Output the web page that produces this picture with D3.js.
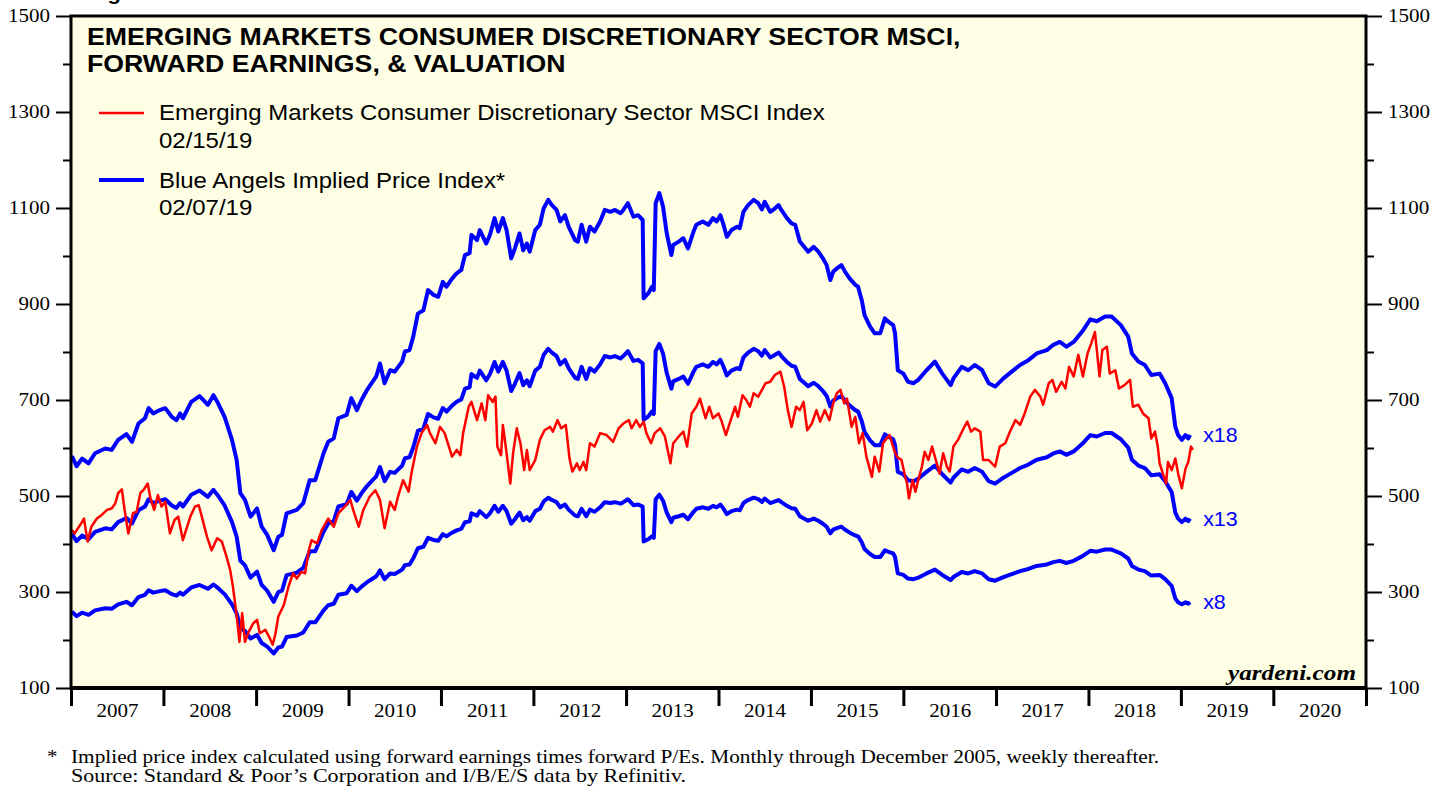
<!DOCTYPE html>
<html>
<head>
<meta charset="UTF-8">
<title>EM Consumer Discretionary Sector MSCI</title>
<script src="https://cdn.jsdelivr.net/npm/d3@7/dist/d3.min.js"></script>
<style>
  body { margin: 0; background: #fff; }
  svg { display: block; }
</style>
</head>
<body>
<svg id="chart" width="1448" height="786"></svg>
<script>
// ---- data (dates as decimal years) ----
var yearLabels = [2007, 2008, 2009, 2010, 2011, 2012, 2013, 2014, 2015, 2016, 2017, 2018, 2019, 2020];
var multiples = [18, 13, 8];

// Blue Angels implied price index at 18x forward earnings
var blueDates = [2007.01, 2007.06, 2007.12, 2007.19, 2007.26, 2007.37, 2007.44, 2007.51, 2007.60, 2007.66,
  2007.73, 2007.80, 2007.84, 2007.89, 2007.96, 2008.02, 2008.09, 2008.14, 2008.18, 2008.21,
  2008.30, 2008.39, 2008.48, 2008.54, 2008.59, 2008.66, 2008.74, 2008.79, 2008.83, 2008.88,
  2008.94, 2009.01, 2009.06, 2009.12, 2009.19, 2009.24, 2009.28, 2009.33, 2009.44, 2009.51,
  2009.58, 2009.64, 2009.73, 2009.78, 2009.84, 2009.89, 2009.98, 2010.03, 2010.09, 2010.14,
  2010.20, 2010.25, 2010.30, 2010.34, 2010.39, 2010.45, 2010.50, 2010.58, 2010.61, 2010.66,
  2010.70, 2010.75, 2010.81, 2010.86, 2010.92, 2010.97, 2011.02, 2011.06, 2011.12, 2011.17,
  2011.22, 2011.26, 2011.31, 2011.33, 2011.39, 2011.42, 2011.49, 2011.53, 2011.58, 2011.62,
  2011.67, 2011.71, 2011.76, 2011.80, 2011.85, 2011.89, 2011.93, 2011.96, 2012.02, 2012.07,
  2012.11, 2012.16, 2012.20, 2012.25, 2012.29, 2012.34, 2012.38, 2012.45, 2012.48, 2012.52,
  2012.57, 2012.61, 2012.66, 2012.72, 2012.77, 2012.83, 2012.88, 2012.94, 2012.97, 2013.02,
  2013.08, 2013.13, 2013.18, 2013.19, 2013.24, 2013.28, 2013.30, 2013.32, 2013.36, 2013.40,
  2013.44, 2013.49, 2013.51, 2013.57, 2013.62, 2013.67, 2013.73, 2013.76, 2013.83, 2013.89,
  2013.94, 2013.98, 2014.02, 2014.05, 2014.09, 2014.14, 2014.20, 2014.23, 2014.27, 2014.32,
  2014.38, 2014.43, 2014.47, 2014.50, 2014.56, 2014.59, 2014.65, 2014.68, 2014.74, 2014.79,
  2014.83, 2014.88, 2014.94, 2014.97, 2015.03, 2015.08, 2015.13, 2015.17, 2015.21, 2015.24,
  2015.28, 2015.33, 2015.37, 2015.42, 2015.48, 2015.51, 2015.55, 2015.58, 2015.64, 2015.69,
  2015.75, 2015.80, 2015.84, 2015.89, 2015.91, 2015.94, 2016.00, 2016.05, 2016.11, 2016.16,
  2016.25, 2016.34, 2016.42, 2016.51, 2016.54, 2016.63, 2016.70, 2016.77, 2016.85, 2016.92,
  2016.99, 2017.08, 2017.17, 2017.26, 2017.35, 2017.44, 2017.55, 2017.62, 2017.69, 2017.76,
  2017.84, 2017.93, 2018.02, 2018.09, 2018.18, 2018.25, 2018.35, 2018.43, 2018.47, 2018.54,
  2018.61, 2018.68, 2018.77, 2018.83, 2018.90, 2018.94, 2018.97, 2019.01, 2019.05, 2019.08,
  2019.10];
var blueValues = [583, 562, 578, 568, 589, 599, 596, 617, 629, 613,
  651, 662, 683, 672, 679, 683, 665, 658, 672, 662,
  696, 708, 690, 710, 693, 665, 617, 575, 506, 492,
  457, 474, 436, 419, 387, 415, 419, 464, 471, 485,
  533, 533, 589, 613, 620, 662, 669, 704, 679, 700,
  721, 735, 749, 776, 735, 762, 759, 780, 801, 804,
  832, 880, 887, 929, 919, 915, 946, 936, 953, 964,
  971, 1002, 1006, 1044, 1033, 1054, 1026, 1044, 1079, 1051,
  1079, 1054, 995, 1016, 1047, 1012, 1026, 1009, 1054, 1065,
  1099, 1117, 1106, 1096, 1072, 1085, 1061, 1033, 1030, 1065,
  1030, 1061, 1051, 1072, 1096, 1092, 1096, 1089, 1096, 1110,
  1082, 1085, 1075, 912, 922, 936, 929, 1110, 1131, 1103,
  1047, 1002, 1023, 1030, 1037, 1016, 1051, 1065, 1072, 1065,
  1079, 1072, 1085, 1068, 1040, 1054, 1061, 1058, 1092, 1106,
  1117, 1110, 1097, 1113, 1092, 1096, 1106, 1096, 1079, 1068,
  1065, 1030, 1016, 1009, 1019, 1009, 995, 981, 950, 967,
  974, 981, 967, 953, 940, 936, 908, 877, 853, 839,
  839, 870, 863, 856, 839, 762, 755, 738, 735, 742,
  762, 780, 755, 731, 745, 769, 762, 773, 762, 735,
  728, 745, 759, 773, 783, 797, 804, 815, 821, 811,
  821, 842, 868, 864, 874, 874, 856, 832, 797, 780,
  773, 752, 755, 735, 704, 644, 627, 617, 627, 620,
  627];

// MSCI EM Consumer Discretionary index
var redDates = [2007.01, 2007.04, 2007.10, 2007.14, 2007.18, 2007.22, 2007.28, 2007.33, 2007.39, 2007.44,
  2007.48, 2007.51, 2007.55, 2007.58, 2007.62, 2007.67, 2007.71, 2007.75, 2007.79, 2007.83,
  2007.86, 2007.90, 2007.94, 2007.98, 2008.02, 2008.07, 2008.12, 2008.16, 2008.21, 2008.29,
  2008.34, 2008.38, 2008.41, 2008.47, 2008.52, 2008.58, 2008.63, 2008.68, 2008.72, 2008.75,
  2008.79, 2008.82, 2008.85, 2008.88, 2008.92, 2008.97, 2009.01, 2009.04, 2009.10, 2009.14,
  2009.18, 2009.21, 2009.24, 2009.30, 2009.35, 2009.40, 2009.44, 2009.49, 2009.53, 2009.57,
  2009.60, 2009.66, 2009.71, 2009.78, 2009.84, 2009.89, 2009.96, 2010.02, 2010.05, 2010.11,
  2010.16, 2010.23, 2010.29, 2010.34, 2010.39, 2010.45, 2010.50, 2010.54, 2010.59, 2010.65,
  2010.68, 2010.74, 2010.79, 2010.85, 2010.88, 2010.94, 2010.99, 2011.04, 2011.12, 2011.17,
  2011.21, 2011.24, 2011.30, 2011.33, 2011.39, 2011.44, 2011.48, 2011.51, 2011.56, 2011.59,
  2011.61, 2011.65, 2011.67, 2011.71, 2011.75, 2011.78, 2011.82, 2011.86, 2011.90, 2011.93,
  2011.96, 2012.02, 2012.07, 2012.12, 2012.18, 2012.21, 2012.26, 2012.30, 2012.35, 2012.39,
  2012.42, 2012.47, 2012.50, 2012.54, 2012.57, 2012.61, 2012.66, 2012.72, 2012.79, 2012.86,
  2012.92, 2012.97, 2013.03, 2013.06, 2013.11, 2013.15, 2013.19, 2013.22, 2013.27, 2013.31,
  2013.37, 2013.42, 2013.48, 2013.51, 2013.57, 2013.62, 2013.66, 2013.71, 2013.76, 2013.80,
  2013.86, 2013.90, 2013.94, 2014.00, 2014.03, 2014.08, 2014.12, 2014.18, 2014.21, 2014.26,
  2014.30, 2014.34, 2014.38, 2014.43, 2014.47, 2014.51, 2014.56, 2014.61, 2014.67, 2014.71,
  2014.75, 2014.79, 2014.84, 2014.88, 2014.92, 2014.96, 2015.01, 2015.06, 2015.10, 2015.15,
  2015.20, 2015.24, 2015.28, 2015.32, 2015.36, 2015.39, 2015.44, 2015.48, 2015.52, 2015.56,
  2015.60, 2015.66, 2015.69, 2015.74, 2015.78, 2015.82, 2015.85, 2015.90, 2015.93, 2015.98,
  2016.02, 2016.04, 2016.06, 2016.10, 2016.13, 2016.16, 2016.20, 2016.23, 2016.27, 2016.31,
  2016.34, 2016.39, 2016.43, 2016.47, 2016.50, 2016.54, 2016.59, 2016.65, 2016.69, 2016.73,
  2016.77, 2016.83, 2016.86, 2016.92, 2016.99, 2017.04, 2017.10, 2017.15, 2017.21, 2017.26,
  2017.31, 2017.37, 2017.42, 2017.48, 2017.51, 2017.57, 2017.61, 2017.65, 2017.71, 2017.75,
  2017.79, 2017.84, 2017.89, 2017.94, 2017.99, 2018.03, 2018.07, 2018.12, 2018.15, 2018.20,
  2018.23, 2018.29, 2018.33, 2018.39, 2018.45, 2018.48, 2018.54, 2018.59, 2018.65, 2018.68,
  2018.72, 2018.75, 2018.77, 2018.81, 2018.84, 2018.86, 2018.90, 2018.94, 2018.97, 2019.01,
  2019.05, 2019.08, 2019.11, 2019.13];
var redValues = [429, 422, 440, 453, 405, 436, 453, 460, 471, 474,
  485, 506, 514, 471, 422, 464, 467, 506, 514, 526,
  495, 471, 502, 478, 488, 422, 450, 457, 408, 457,
  478, 481, 460, 415, 387, 412, 405, 374, 346, 311,
  252, 196, 256, 196, 217, 235, 242, 214, 221, 207,
  190, 214, 249, 273, 311, 339, 328, 342, 339, 387,
  408, 401, 429, 453, 436, 464, 478, 492, 471, 436,
  471, 499, 512, 492, 433, 488, 471, 502, 533, 509,
  547, 603, 631, 648, 631, 610, 644, 631, 582, 596,
  585, 631, 686, 696, 658, 693, 658, 710, 696, 707,
  603, 585, 648, 589, 526, 589, 641, 610, 554, 596,
  554, 575, 617, 637, 644, 634, 658, 641, 648, 578,
  551, 568, 554, 571, 554, 610, 603, 631, 627, 613,
  641, 651, 658, 641, 658, 644, 655, 631, 610, 631,
  641, 624, 568, 610, 624, 634, 603, 672, 686, 703,
  662, 686, 662, 672, 658, 627, 651, 686, 665, 710,
  700, 686, 714, 707, 721, 735, 738, 752, 759, 728,
  679, 644, 686, 679, 696, 637, 651, 679, 655, 679,
  658, 693, 714, 721, 693, 703, 644, 665, 610, 631,
  582, 540, 582, 551, 610, 620, 627, 596, 582, 575,
  540, 526, 495, 533, 509, 533, 561, 592, 575, 603,
  582, 547, 589, 561, 551, 603, 617, 641, 655, 634,
  641, 634, 575, 575, 561, 603, 610, 634, 658, 648,
  672, 707, 721, 707, 690, 735, 742, 717, 738, 724,
  769, 749, 794, 749, 797, 818, 842, 749, 804, 811,
  755, 762, 724, 731, 742, 686, 690, 672, 662, 620,
  634, 603, 568, 544, 526, 571, 554, 578, 547, 516,
  557, 571, 603, 596];

var yMajor = [100, 300, 500, 700, 900, 1100, 1300, 1500];
var yMinor = [200, 400, 600, 800, 1000, 1200, 1400];

// ---- layout ----
var box = {left: 71, right: 1366, top: 16, bottom: 688};
var sans = 'Liberation Sans, Arial, Helvetica, sans-serif';
var serif = 'Liberation Serif, Times New Roman, serif';

function toDate(dy) {
  var yr = Math.floor(dy), a = new Date(yr, 0, 1), b = new Date(yr + 1, 0, 1);
  return new Date(+a + (dy - yr) * (b - a));
}

var x = d3.scaleTime()
    .domain([new Date(2007, 0, 1), new Date(2021, 0, 1)])
    .range([box.left, box.right]);
var y = d3.scaleLinear()
    .domain([100, 1500])
    .range([box.bottom, box.top]);

var svg = d3.select('#chart');

// the source art is a bit wider than tall, so text gets a horizontal stretch
function widen(sel, sx) {
  sel.each(function() {
    var t = d3.select(this);
    var tx = +t.attr('x') || 0, ty = +t.attr('y') || 0;
    t.attr('x', 0).attr('y', 0)
     .attr('transform', 'translate(' + tx + ',' + ty + ') scale(' + sx + ',1)');
  });
}

function label(txt, px, py, o) {
  var t = svg.append('text')
      .attr('transform', 'translate(' + px + ',' + py + ') scale(' + (o.sx || 1) + ',1)')
      .attr('font-family', o.family || sans)
      .attr('font-size', o.size)
      .attr('font-weight', o.weight || 'normal')
      .attr('font-style', o.style || 'normal')
      .attr('text-anchor', o.anchor || 'start')
      .attr('fill', o.fill || '#000')
      .text(txt);
  if (o.dy) t.attr('dy', o.dy);
  return t;
}

// figure caption, cropped by the top edge in the source as well
label('Figure 5.', 88, 0, {size: 20, weight: 'bold', sx: 1.1});

// plot background
svg.append('rect')
    .attr('x', box.left).attr('y', box.top)
    .attr('width', box.right - box.left).attr('height', box.bottom - box.top)
    .attr('fill', '#fefee4');

// ---- series ----
var blue = blueDates.map(function(d, i) { return {date: toDate(d), value: blueValues[i]}; });
var red = redDates.map(function(d, i) { return {date: toDate(d), value: redValues[i]}; });

var line = d3.line()
    .x(function(d) { return x(d.date); })
    .y(function(d) { return y(d.value); });

multiples.forEach(function(mult) {
  var pts = blue.map(function(d) { return {date: d.date, value: d.value * mult / 18}; });
  svg.append('path')
      .datum(pts)
      .attr('d', line)
      .attr('fill', 'none')
      .attr('stroke', '#0000ff')
      .attr('stroke-width', 4)
      .attr('stroke-linejoin', 'round');
  var last = pts[pts.length - 1];
  label('x' + mult, x(last.date) + 13, y(last.value), {size: 19.5, sx: 1.1, fill: '#0000ff', dy: '0.36em'});
});

svg.append('path')
    .datum(red)
    .attr('d', line)
    .attr('fill', 'none')
    .attr('stroke', '#ff0000')
    .attr('stroke-width', 2.5)
    .attr('stroke-linejoin', 'round');

// frame
svg.append('rect')
    .attr('x', box.left).attr('y', box.top)
    .attr('width', box.right - box.left).attr('height', box.bottom - box.top)
    .attr('fill', 'none')
    .attr('stroke', '#000')
    .attr('stroke-width', 3);
svg.append('line')
    .attr('x1', box.left - 1).attr('x2', box.right + 1)
    .attr('y1', box.bottom).attr('y2', box.bottom)
    .attr('stroke', '#000').attr('stroke-width', 4);

// ---- axes ----
function styleAxis(g) {
  g.select('.domain').remove();
  g.attr('font-family', serif).attr('font-size', 18);
  g.selectAll('.tick line').attr('stroke', '#000').attr('stroke-width', 2);
  g.selectAll('.tick text').attr('fill', '#000');
}

svg.append('g')
    .attr('transform', 'translate(' + box.left + ',0)')
    .call(d3.axisLeft(y).tickValues(yMajor).tickSize(15).tickPadding(6).tickFormat(d3.format('d')))
    .call(styleAxis)
    .call(function(g) { widen(g.selectAll('.tick text'), 1.17); });
svg.append('g')
    .attr('transform', 'translate(' + box.left + ',0)')
    .call(d3.axisLeft(y).tickValues(yMinor).tickSize(8).tickFormat(''))
    .call(styleAxis);

svg.append('g')
    .attr('transform', 'translate(' + box.right + ',0)')
    .call(d3.axisRight(y).tickValues(yMajor).tickSize(16).tickPadding(6).tickFormat(d3.format('d')))
    .call(styleAxis)
    .call(function(g) { widen(g.selectAll('.tick text'), 1.17); });
svg.append('g')
    .attr('transform', 'translate(' + box.right + ',0)')
    .call(d3.axisRight(y).tickValues(yMinor).tickSize(8).tickFormat(''))
    .call(styleAxis);

var yearStarts = yearLabels.map(function(yr) { return new Date(yr, 0, 1); }).concat([new Date(2021, 0, 1)]);
var yearMids = yearLabels.map(function(yr) { return new Date(yr, 6, 2); });

svg.append('g')
    .attr('transform', 'translate(0,' + box.bottom + ')')
    .call(d3.axisBottom(x).tickValues(yearStarts).tickSize(18).tickFormat(''))
    .call(styleAxis)
    .call(function(g) { g.selectAll('.tick line').attr('stroke-width', 3); });
svg.append('g')
    .attr('transform', 'translate(0,' + box.bottom + ')')
    .call(d3.axisBottom(x).tickValues(yearMids).tickSize(0).tickPadding(16).tickFormat(d3.timeFormat('%Y')))
    .call(styleAxis)
    .call(function(g) { widen(g.selectAll('.tick text'), 1.17); });

// ---- title and legend ----
label('EMERGING MARKETS CONSUMER DISCRETIONARY SECTOR MSCI,', 87, 45, {size: 23.5, weight: 'bold', sx: 1.135});
label('FORWARD EARNINGS, & VALUATION', 87, 72, {size: 23.5, weight: 'bold', sx: 1.135});

svg.append('line').attr('x1', 99).attr('x2', 144).attr('y1', 113).attr('y2', 113)
    .attr('stroke', '#ff0000').attr('stroke-width', 2.5);
label('Emerging Markets Consumer Discretionary Sector MSCI Index', 159, 120, {size: 22.5, sx: 1.065});
label('02/15/19', 159, 148, {size: 22.5, sx: 1.065});

svg.append('line').attr('x1', 99).attr('x2', 144).attr('y1', 180).attr('y2', 180)
    .attr('stroke', '#0000ff').attr('stroke-width', 4);
label('Blue Angels Implied Price Index*', 159, 188, {size: 22.5, sx: 1.065});
label('02/07/19', 159, 215, {size: 22.5, sx: 1.065});

label('yardeni.com', 1356, 680, {size: 21, family: serif, weight: 'bold', style: 'italic', anchor: 'end', sx: 1.2});

// ---- footnote ----
label('*', 47, 763, {size: 18, family: serif, sx: 1.17});
svg.append('text')
    .attr('x', 71).attr('y', 763)
    .attr('font-family', serif).attr('font-size', 18)
    .attr('textLength', 1088).attr('lengthAdjust', 'spacingAndGlyphs')
    .text('Implied price index calculated using forward earnings times forward P/Es. Monthly through December 2005, weekly thereafter.');
svg.append('text')
    .attr('x', 71).attr('y', 782)
    .attr('font-family', serif).attr('font-size', 18)
    .attr('textLength', 615).attr('lengthAdjust', 'spacingAndGlyphs')
    .text('Source: Standard & Poor\u2019s Corporation and I/B/E/S data by Refinitiv.');
</script>
</body>
</html>
